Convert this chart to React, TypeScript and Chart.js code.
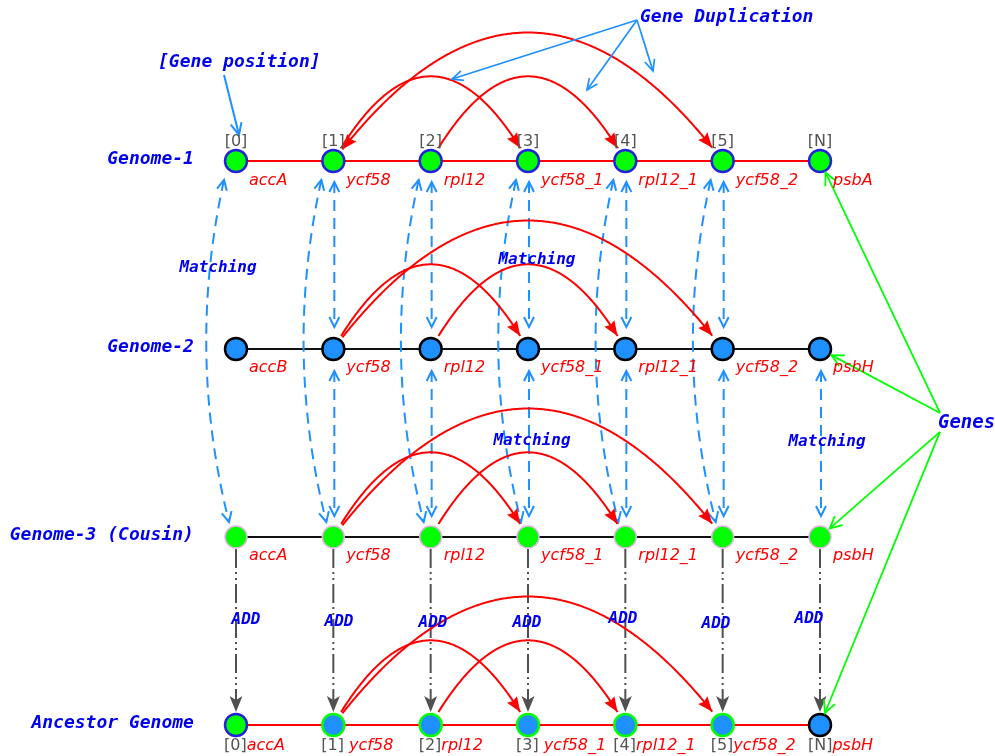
import { useEffect, useRef } from "react";
import { Chart, registerables } from "chart.js";

Chart.register(...registerables);

// ---------------- data ----------------
const genomeRows = ["Genome-1", "Genome-2", "Genome-3 (Cousin)", "Ancestor Genome"];
const positionLabels = ["[0]", "[1]", "[2]", "[3]", "[4]", "[5]", "[N]"];
const ancestorPositionLabels = ["[0]", "[1] ", "[2]", "[3] ", "[4]", "[5]", "[N]"];
const genome1Genes = ["accA", "ycf58", "rpl12", "ycf58_1", "rpl12_1", "ycf58_2", "psbA"];
const genome2Genes = ["accB", "ycf58", "rpl12", "ycf58_1", "rpl12_1", "ycf58_2", "psbH"];
const genome3Genes = ["accA", "ycf58", "rpl12", "ycf58_1", "rpl12_1", "ycf58_2", "psbH"];
const ancestorGenes = ["accA", "ycf58", "rpl12", "ycf58_1", "rpl12_1", "ycf58_2", "psbH"];
const duplicationFrom = [1, 2, 1];
const duplicationTo = [3, 4, 5];
const genome1DoubleHeaded = [false, false, true];
const matchG1toG2 = [1, 2, 3, 4, 5];
const matchG1toG3 = [0, 1, 2, 3, 4, 5];
const matchG2toG3 = [1, 2, 3, 4, 5, 6];
const addColumns = [0, 1, 2, 3, 4, 5, 6];

// annotation anchors (data units: x = gene position, y = genome row)
const matchingLabelX = [-0.185, 3.092, 3.041, 6.072];
const matchingLabelY = [0.569, 0.527, 1.489, 1.495];
const addLabelX = [0.103, 1.058, 2.024, 2.99, 3.976, 4.932, 5.887];
const addLabelY = [2.441, 2.452, 2.457, 2.457, 2.436, 2.463, 2.436];
const dupApex = { x: 4.12, y: -0.75 };
const dupTipsX = [2.219, 3.606, 4.284];
const dupTipsY = [-0.436, -0.378, -0.479];
const dupText = { x: 4.151, y: -0.766 };
const genePosText = { x: -0.801, y: -0.527 };
const genePosFrom = { x: -0.123, y: -0.457 };
const genePosTo = { x: 0.031, y: -0.138 };
const genesText = { x: 7.212, y: 1.394 };
const genesOriginY = [1.34, 1.34, 1.441, 1.441];
const genesOriginX = 7.233;

// ---------------- styles ----------------
const RED = "#ff0000";
const BLUE_TXT = "#0000ee";
const DODGER = "#1e90ff";
const LIME = "#00ff00";
const GRAY = "#505050";
const IDX_GRAY = "#555555";
const MONO = "'DejaVu Sans Mono', monospace";
const SANS = "'DejaVu Sans', sans-serif";

type Pt = { x: number; y: number };
const norm = (v: Pt): Pt => {
  const l = Math.hypot(v.x, v.y) || 1;
  return { x: v.x / l, y: v.y / l };
};

function bezier(p0: Pt, p2: Pt, rad: number, n = 300): Pt[] {
  const cx = (p0.x + p2.x) / 2 + rad * (p2.y - p0.y);
  const cy = (p0.y + p2.y) / 2 - rad * (p2.x - p0.x);
  const pts: Pt[] = [];
  for (let i = 0; i <= n; i++) {
    const t = i / n;
    const u = 1 - t;
    pts.push({
      x: u * u * p0.x + 2 * u * t * cx + t * t * p2.x,
      y: u * u * p0.y + 2 * u * t * cy + t * t * p2.y,
    });
  }
  return pts;
}

function trimPath(pts: Pt[], s0: number, s1: number): Pt[] {
  const first = pts[0];
  const last = pts[pts.length - 1];
  let i0 = 0;
  while (i0 < pts.length - 1 && Math.hypot(pts[i0].x - first.x, pts[i0].y - first.y) < s0) i0++;
  let i1 = pts.length - 1;
  while (i1 > 0 && Math.hypot(pts[i1].x - last.x, pts[i1].y - last.y) < s1) i1--;
  return pts.slice(i0, i1 + 1);
}

function backPoint(pts: Pt[], atEnd: boolean, dist: number): Pt {
  if (atEnd) {
    const tip = pts[pts.length - 1];
    for (let i = pts.length - 1; i >= 0; i--)
      if (Math.hypot(pts[i].x - tip.x, pts[i].y - tip.y) >= dist) return pts[i];
    return pts[0];
  }
  const tip = pts[0];
  for (let i = 0; i < pts.length; i++)
    if (Math.hypot(pts[i].x - tip.x, pts[i].y - tip.y) >= dist) return pts[i];
  return pts[pts.length - 1];
}

function strokePath(ctx: CanvasRenderingContext2D, pts: Pt[]) {
  ctx.beginPath();
  ctx.moveTo(pts[0].x, pts[0].y);
  for (let i = 1; i < pts.length; i++) ctx.lineTo(pts[i].x, pts[i].y);
  ctx.stroke();
}

function head(
  ctx: CanvasRenderingContext2D,
  tip: Pt,
  from: Pt,
  len: number,
  hw: number,
  filled: boolean,
  notch = 0
) {
  const d = norm({ x: tip.x - from.x, y: tip.y - from.y });
  const b = { x: tip.x - d.x * len, y: tip.y - d.y * len };
  const p = { x: -d.y, y: d.x };
  ctx.save();
  ctx.setLineDash([]);
  ctx.beginPath();
  ctx.moveTo(b.x + p.x * hw, b.y + p.y * hw);
  ctx.lineTo(tip.x, tip.y);
  ctx.lineTo(b.x - p.x * hw, b.y - p.y * hw);
  if (filled) {
    ctx.lineTo(b.x + d.x * notch, b.y + d.y * notch);
    ctx.closePath();
    ctx.fill();
  } else {
    ctx.stroke();
  }
  ctx.restore();
}

export default function App() {
  const ref = useRef<HTMLCanvasElement>(null);

  useEffect(() => {
    document.body.style.margin = "0";
    const canvas = ref.current;
    if (!canvas) return;

    const rowPoints = (row: number) => positionLabels.map((_, i) => ({ x: i, y: row }));
    const geneLists = [genome1Genes, genome2Genes, genome3Genes, ancestorGenes];

    const overlay = {
      id: "geneOverlay",
      afterDraw(chart: any) {
        const ctx: CanvasRenderingContext2D = chart.ctx;
        const xs = chart.scales.x;
        const ys = chart.scales.y;
        const P = (x: number, y: number): Pt => ({ x: xs.getPixelForValue(x), y: ys.getPixelForValue(y) });
        const node = (row: number, col: number) => P(col, row);
        const off = (p: Pt, dx: number, dy: number): Pt => ({ x: p.x + dx, y: p.y + dy });

        ctx.save();
        ctx.lineCap = "butt";

        // ---- matching arrows (dashed, double headed) ----
        ctx.strokeStyle = DODGER;
        ctx.lineWidth = 2;
        const dashedDouble = (pts: Pt[]) => {
          ctx.setLineDash([11, 7]);
          strokePath(ctx, pts);
          ctx.setLineDash([]);
          head(ctx, pts[0], backPoint(pts, false, 10), 10, 5, false);
          head(ctx, pts[pts.length - 1], backPoint(pts, true, 10), 10, 5, false);
        };
        matchG1toG2.forEach((c) => {
          dashedDouble([off(node(0, c), 1, 21), off(node(1, c), 1, -22)]);
        });
        matchG2toG3.forEach((c) => {
          dashedDouble([off(node(1, c), 1, 22), off(node(2, c), 1, -21)]);
        });
        matchG1toG3.forEach((c) => {
          const a = off(node(0, c), -12, 19);
          const b = off(node(2, c), -7, -15);
          dashedDouble(bezier(a, b, -0.118));
        });

        // ---- ADD arrows (dash-dot) ----
        ctx.strokeStyle = GRAY;
        ctx.fillStyle = GRAY;
        ctx.lineWidth = 2;
        addColumns.forEach((c) => {
          const a = off(node(2, c), 0, 12);
          const b = off(node(3, c), 0, -13);
          ctx.setLineDash([19, 4, 2, 4, 2, 4]);
          strokePath(ctx, [a, { x: b.x, y: b.y - 6 }]);
          ctx.setLineDash([]);
          head(ctx, b, a, 16, 6.5, true, 4);
        });

        // ---- duplication arcs ----
        ctx.strokeStyle = RED;
        ctx.fillStyle = RED;
        ctx.lineWidth = 2;
        for (let row = 0; row < 4; row++) {
          duplicationFrom.forEach((f, k) => {
            const t = duplicationTo[k];
            const span = t - f;
            const rad = span <= 2 ? 0.87 : 0.66;
            const full = bezier(node(row, f), node(row, t), rad);
            const pts = trimPath(full, 14, 15);
            strokePath(ctx, pts);
            head(ctx, pts[pts.length - 1], backPoint(pts, true, 15), 15, 6, true, 2);
            if (row === 0 && genome1DoubleHeaded[k]) {
              head(ctx, pts[0], backPoint(pts, false, 15), 15, 6, true, 2);
            }
          });
        }

        // ---- Gene Duplication pointers ----
        ctx.strokeStyle = DODGER;
        ctx.lineWidth = 1.7;
        const apex = P(dupApex.x, dupApex.y);
        dupTipsX.forEach((tx, i) => {
          const tip = P(tx, dupTipsY[i]);
          strokePath(ctx, [apex, tip]);
          head(ctx, tip, apex, 11, 5, false);
        });
        const gpA = P(genePosFrom.x, genePosFrom.y);
        const gpB = P(genePosTo.x, genePosTo.y);
        ctx.lineWidth = 2;
        strokePath(ctx, [gpA, gpB]);
        head(ctx, gpB, gpA, 12, 5.5, false);

        // ---- Genes pointers ----
        ctx.strokeStyle = LIME;
        ctx.lineWidth = 1.8;
        for (let row = 0; row < 4; row++) {
          const origin = P(genesOriginX, genesOriginY[row]);
          const n = node(row, 6);
          const d = norm({ x: origin.x - n.x, y: origin.y - n.y });
          const tip = { x: n.x + d.x * 13, y: n.y + d.y * 13 };
          strokePath(ctx, [origin, tip]);
          head(ctx, tip, origin, 12, 6, false);
        }

        // ---- texts ----
        ctx.textBaseline = "middle";
        ctx.fillStyle = BLUE_TXT;
        ctx.font = `italic bold 18px ${MONO}`;
        ctx.textAlign = "right";
        genomeRows.forEach((name, r) => {
          const p = P(-0.432, r);
          ctx.fillText(name, p.x, p.y - 2);
        });
        ctx.textAlign = "left";
        const dt = P(dupText.x, dupText.y);
        ctx.fillText("Gene Duplication", dt.x, dt.y);
        const gt = P(genePosText.x, genePosText.y);
        ctx.fillText("[Gene position]", gt.x, gt.y);
        ctx.font = `italic bold 19px ${MONO}`;
        const gs = P(genesText.x, genesText.y);
        ctx.fillText("Genes", gs.x, gs.y);

        ctx.font = `italic bold 16px ${MONO}`;
        ctx.textAlign = "center";
        matchingLabelX.forEach((mx, i) => {
          const p = P(mx, matchingLabelY[i]);
          ctx.fillText("Matching", p.x, p.y);
        });
        addLabelX.forEach((ax, i) => {
          const p = P(ax, addLabelY[i]);
          ctx.fillText("ADD", p.x, p.y);
        });

        // position indices on Genome-1
        ctx.font = `16px ${SANS}`;
        ctx.fillStyle = IDX_GRAY;
        ctx.textAlign = "center";
        positionLabels.forEach((lab, c) => {
          const p = node(0, c);
          ctx.fillText(lab, p.x, p.y - 19);
        });

        // gene names
        ctx.textAlign = "left";
        for (let row = 0; row < 3; row++) {
          const dy = row === 0 ? 20 : 19;
          geneLists[row].forEach((g, c) => {
            const p = node(row, c);
            ctx.font = `italic 16px ${SANS}`;
            ctx.fillStyle = RED;
            ctx.fillText(g, p.x + 13, p.y + dy);
          });
        }
        // ancestor: index + name
        ancestorGenes.forEach((g, c) => {
          const p = node(3, c);
          ctx.font = `16px ${SANS}`;
          ctx.fillStyle = IDX_GRAY;
          const lab = ancestorPositionLabels[c];
          const x0 = p.x - 12;
          ctx.fillText(lab, x0, p.y + 21);
          const w = ctx.measureText(lab).width;
          ctx.font = `italic 16px ${SANS}`;
          ctx.fillStyle = RED;
          ctx.fillText(g, x0 + w, p.y + 21);
        });

        ctx.restore();
      },
    };

    const chart = new Chart(canvas, {
      type: "scatter",
      data: {
        datasets: [
          {
            data: rowPoints(0),
            showLine: true,
            borderColor: RED,
            borderWidth: 2,
            pointRadius: 11,
            pointBackgroundColor: LIME,
            pointBorderColor: "#2222dd",
            pointBorderWidth: 2.5,
            clip: false,
          },
          {
            data: rowPoints(1),
            showLine: true,
            borderColor: "#111111",
            borderWidth: 2,
            pointRadius: 11,
            pointBackgroundColor: DODGER,
            pointBorderColor: "#000000",
            pointBorderWidth: 2.5,
            clip: false,
          },
          {
            data: rowPoints(2),
            showLine: true,
            borderColor: "#111111",
            borderWidth: 2,
            pointRadius: 11,
            pointBackgroundColor: LIME,
            pointBorderColor: "#e6b3e6",
            pointBorderWidth: 1.5,
            clip: false,
          },
          {
            data: rowPoints(3),
            showLine: true,
            borderColor: RED,
            borderWidth: 2,
            pointRadius: 11,
            pointBackgroundColor: positionLabels.map((_, i) => (i === 0 ? LIME : DODGER)),
            pointBorderColor: positionLabels.map((_, i) =>
              i === 0 ? "#2222dd" : i === positionLabels.length - 1 ? "#000000" : LIME
            ),
            pointBorderWidth: 2.5,
            clip: false,
          },
        ] as any,
      },
      options: {
        responsive: false,
        animation: false,
        events: [],
        layout: { padding: { left: 236, right: 175, top: 161, bottom: 31 } },
        scales: {
          x: { type: "linear", min: 0, max: 6, display: false },
          y: { type: "linear", min: 0, max: 3, reverse: true, display: false },
        },
        plugins: { legend: { display: false }, tooltip: { enabled: false } },
      },
      plugins: [overlay],
    });

    return () => chart.destroy();
  }, []);

  return (
    <div style={{ position: "absolute", left: 0, top: 0, width: 995, height: 756, background: "#ffffff" }}>
      <canvas ref={ref} width={995} height={756} style={{ display: "block", width: 995, height: 756 }} />
    </div>
  );
}
